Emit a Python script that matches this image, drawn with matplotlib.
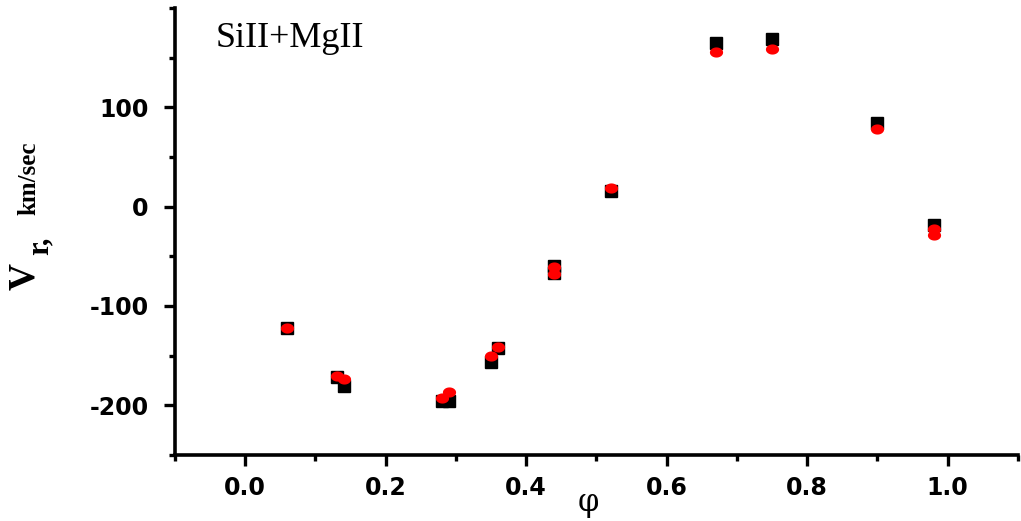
import numpy as np
import matplotlib
matplotlib.use("Agg")
import matplotlib.pyplot as plt
from matplotlib.path import Path
from matplotlib.ticker import MultipleLocator

# Data
phase_black = [0.06, 0.13, 0.14, 0.28, 0.29, 0.35, 0.36, 0.44, 0.44, 0.52, 0.67, 0.75, 0.90, 0.98]
vr_black = [-122, -171, -181, -196, -196, -156, -142, -60, -67, 16, 165, 169, 84, -18]
phase_red = [0.06, 0.13, 0.14, 0.28, 0.29, 0.35, 0.36, 0.44, 0.44, 0.52, 0.67, 0.75, 0.90, 0.98, 0.98]
vr_red = [-122, -170, -174, -193, -187, -150, -141, -61, -68, 19, 156, 159, 78, -23, -29]
x_ticks = [0.0, 0.2, 0.4, 0.6, 0.8, 1.0]
y_ticks = [-200, -100, 0, 100]
title_text = "SiII+MgII"

fig = plt.figure(figsize=(10.21, 5.21), dpi=100)
ax = fig.add_axes([0.1714, 0.1267, 0.8256, 0.858])

# ellipse marker (wider than tall)
t = np.linspace(0, 2 * np.pi, 60)
ell = Path(np.column_stack([1.3 * np.cos(t), np.sin(t)]))

ax.plot(phase_black, vr_black, linestyle="none", marker="s", markersize=8,
        color="black", zorder=3, clip_on=False)
ax.plot(phase_red, vr_red, linestyle="none", marker=ell, markersize=9.5,
        color="#ff0000", markeredgewidth=0, zorder=4, clip_on=False)

ax.set_xlim(-0.1, 1.1)
ax.set_ylim(-250, 200)
ax.set_xticks(x_ticks)
ax.set_yticks(y_ticks)
ax.xaxis.set_minor_locator(MultipleLocator(0.1))
ax.yaxis.set_minor_locator(MultipleLocator(50))
ax.set_xticklabels([f"{v:.1f}" for v in x_ticks])
ax.set_yticklabels([str(v) for v in y_ticks])

for s in ["top", "right"]:
    ax.spines[s].set_visible(False)
for s in ["left", "bottom"]:
    ax.spines[s].set_linewidth(2.6)

ax.tick_params(which="major", direction="out", length=8, width=2.4)
ax.tick_params(which="minor", direction="out", length=4.5, width=2.4)
ax.tick_params(axis="x", which="major", pad=7)
ax.tick_params(axis="y", which="major", pad=11)
for lab in ax.get_xticklabels() + ax.get_yticklabels():
    lab.set_fontfamily("DejaVu Sans")
    lab.set_fontweight("bold")
    lab.set_fontsize(17)

# x label
fig.text(0.576, 0.006, "φ", fontsize=22, family="DejaVu Serif",
         ha="center", va="bottom")

ax.text(0.048, 0.968, title_text, transform=ax.transAxes, fontsize=26,
        family="Liberation Serif", va="top", ha="left")

# y label pieces (rotated)
fig.text(25 / 1021, 1 - 277 / 521, "V", rotation=90, fontsize=27,
         family="Liberation Serif", fontweight="bold", ha="center", va="center")
fig.text(40 / 1021, 1 - 246 / 521, "r,", rotation=90, fontsize=22,
         family="Liberation Serif", fontweight="bold", ha="center", va="center")
fig.text(29 / 1021, 1 - 178 / 521, "km/sec", rotation=90, fontsize=18,
         family="Liberation Serif", fontweight="bold", ha="center", va="center")

fig.savefig("out.png", dpi=100)
